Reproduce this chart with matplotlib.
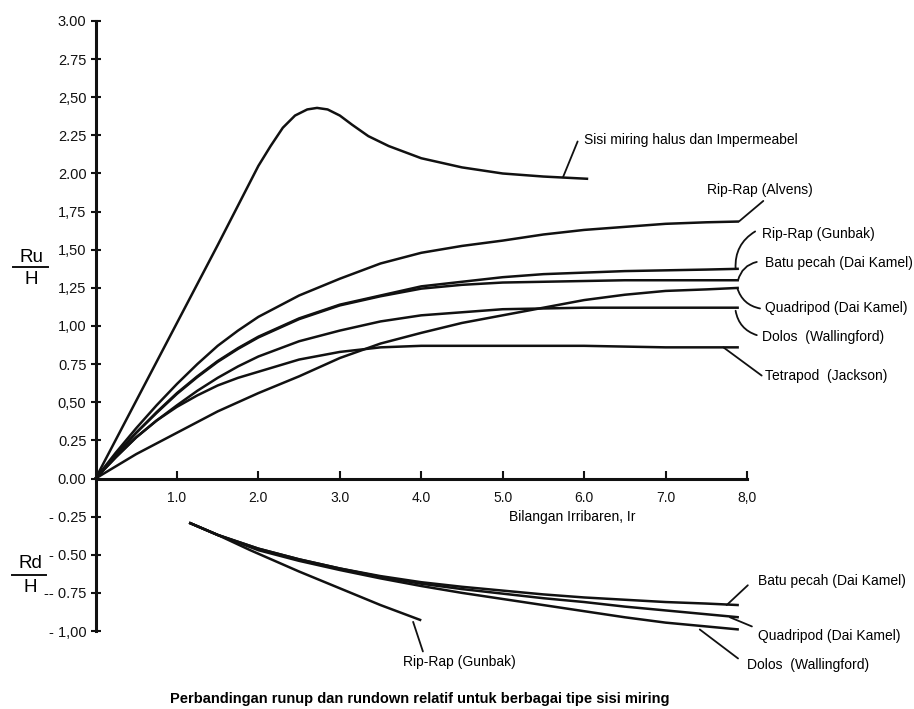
import matplotlib.pyplot as plt

plt.rcParams['font.family'] = ['Liberation Sans', 'DejaVu Sans']

# Ru/H curves (run-up)
x_sisi = [0, 0.5, 1.0, 1.5, 1.75, 2.0, 2.15, 2.3, 2.45, 2.6, 2.72, 2.85, 3.0, 3.15, 3.35, 3.6, 4.0, 4.5, 5.0, 5.5, 6.05]
y_sisi = [0, 0.51, 1.02, 1.53, 1.79, 2.05, 2.18, 2.30, 2.38, 2.42, 2.43, 2.42, 2.38, 2.32, 2.245, 2.18, 2.10, 2.04, 2.0, 1.98, 1.965]

x_up = [0, 0.25, 0.5, 0.75, 1.0, 1.25, 1.5, 1.75, 2.0, 2.5, 3.0, 3.5, 4.0, 4.5, 5.0, 5.5, 6.0, 6.5, 7.0, 7.5, 7.9]
y_alvens = [0, 0.17, 0.33, 0.48, 0.62, 0.75, 0.87, 0.97, 1.06, 1.20, 1.31, 1.41, 1.48, 1.525, 1.56, 1.60, 1.63, 1.65, 1.67, 1.68, 1.685]
y_gunbak = [0, 0.155, 0.30, 0.435, 0.56, 0.67, 0.77, 0.855, 0.93, 1.05, 1.14, 1.20, 1.26, 1.29, 1.32, 1.34, 1.35, 1.36, 1.365, 1.37, 1.375]
y_batu = [0, 0.155, 0.30, 0.43, 0.555, 0.665, 0.765, 0.85, 0.925, 1.045, 1.135, 1.195, 1.245, 1.27, 1.285, 1.29, 1.295, 1.30, 1.30, 1.30, 1.30]
y_quad = [0, 0.08, 0.16, 0.23, 0.30, 0.37, 0.44, 0.50, 0.56, 0.67, 0.79, 0.885, 0.955, 1.02, 1.07, 1.12, 1.17, 1.205, 1.23, 1.24, 1.25]
y_dolos = [0, 0.14, 0.27, 0.38, 0.48, 0.575, 0.66, 0.735, 0.80, 0.90, 0.97, 1.03, 1.07, 1.09, 1.11, 1.115, 1.12, 1.12, 1.12, 1.12, 1.12]
y_tetra = [0, 0.14, 0.27, 0.38, 0.47, 0.545, 0.61, 0.66, 0.70, 0.78, 0.83, 0.86, 0.87, 0.87, 0.87, 0.87, 0.87, 0.865, 0.86, 0.86, 0.86]

# Rd/H curves (run-down)
x_dn = [1.15, 1.5, 2.0, 2.5, 3.0, 3.5, 4.0, 4.5, 5.0, 5.5, 6.0, 6.5, 7.0, 7.5, 7.9]
yd_batu = [-0.29, -0.37, -0.46, -0.53, -0.59, -0.64, -0.68, -0.71, -0.735, -0.76, -0.78, -0.795, -0.81, -0.82, -0.83]
yd_quad = [-0.29, -0.37, -0.46, -0.53, -0.59, -0.645, -0.69, -0.725, -0.755, -0.785, -0.81, -0.84, -0.865, -0.89, -0.91]
yd_dolos = [-0.29, -0.37, -0.47, -0.54, -0.60, -0.655, -0.705, -0.75, -0.79, -0.83, -0.87, -0.91, -0.945, -0.97, -0.99]
x_dn_gunbak = [1.15, 1.5, 1.9, 2.5, 3.0, 3.5, 4.0]
yd_gunbak = [-0.29, -0.37, -0.47, -0.61, -0.72, -0.83, -0.93]

y_ticks = [3.0, 2.75, 2.5, 2.25, 2.0, 1.75, 1.5, 1.25, 1.0, 0.75, 0.5, 0.25, 0.0, -0.25, -0.5, -0.75, -1.0]
y_ticklabels = ["3.00", "2.75", "2,50", "2.25", "2.00", "1,75", "1,50", "1,25", "1,00", "0.75",
                "0,50", "0.25", "0.00", "- 0.25", "- 0.50", "-- 0.75", "- 1,00"]
x_ticks = [1, 2, 3, 4, 5, 6, 7, 8]
x_ticklabels = ["1.0", "2.0", "3.0", "4.0", "5.0", "6.0", "7.0", "8,0"]

fig = plt.figure(figsize=(9.14, 7.09), dpi=100)
ax = fig.add_axes([0.1045, 0.110, 0.7128, 0.8604])
ax.set_xlim(0, 8.0)
ax.set_ylim(-1.0, 3.0)

lw = 1.8
col = '#111111'
kw = dict(color=col, lw=lw, solid_capstyle='butt', solid_joinstyle='round', clip_on=False)
ax.plot(x_sisi, y_sisi, **kw)
for yy in [y_alvens, y_gunbak, y_batu, y_quad, y_dolos, y_tetra]:
    ax.plot(x_up, yy, **kw)
for yy in [yd_batu, yd_quad, yd_dolos]:
    ax.plot(x_dn, yy, **kw)
ax.plot(x_dn_gunbak, yd_gunbak, **kw)

# axes styling
for s in ['top', 'right']:
    ax.spines[s].set_visible(False)
ax.spines['bottom'].set_position(('data', 0))
ax.spines['left'].set_linewidth(2.2)
ax.spines['bottom'].set_linewidth(2.2)
ax.spines['left'].set_color(col)
ax.spines['bottom'].set_color(col)

ax.set_yticks(y_ticks)
ax.set_yticklabels(y_ticklabels)
ax.set_xticks(x_ticks)
ax.set_xticklabels(x_ticklabels)
ax.tick_params(axis='y', direction='inout', length=7, width=1.5, labelsize=10.5, pad=3, colors=col)
ax.tick_params(axis='x', direction='in', length=6, width=1.5, labelsize=10, pad=9, colors=col)

# labels with pointer lines
fs = 10
ann = dict(arrowprops=dict(arrowstyle='-', color=col, lw=1.3, shrinkA=0, shrinkB=0),
           annotation_clip=False)
ax.annotate("", xy=(5.74, 1.975), xytext=(5.92, 2.21), **ann)
ax.text(6.0, 2.22, "Sisi miring halus dan Impermeabel", fontsize=fs, va='center')

ax.annotate("", xy=(7.90, 1.685), xytext=(8.20, 1.82), **ann)
ax.text(7.51, 1.89, "Rip-Rap (Alvens)", fontsize=fs, va='center')

ann_c = dict(arrowprops=dict(arrowstyle='-', color=col, lw=1.3, shrinkA=0, shrinkB=0,
                             connectionstyle='arc3,rad=0.3'),
             annotation_clip=False)
ax.annotate("", xy=(7.86, 1.375), xytext=(8.10, 1.62), **ann_c)
ax.text(8.18, 1.60, "Rip-Rap (Gunbak)", fontsize=fs, va='center')

ax.annotate("", xy=(7.89, 1.30), xytext=(8.12, 1.42), **ann_c)
ax.text(8.22, 1.41, "Batu pecah (Dai Kamel)", fontsize=fs, va='center')

ann_c2 = dict(arrowprops=dict(arrowstyle='-', color=col, lw=1.3, shrinkA=0, shrinkB=0,
                              connectionstyle='arc3,rad=-0.3'),
              annotation_clip=False)
ax.annotate("", xy=(7.88, 1.25), xytext=(8.16, 1.115), **ann_c2)
ax.text(8.22, 1.12, "Quadripod (Dai Kamel)", fontsize=fs, va='center')

ax.annotate("", xy=(7.86, 1.10), xytext=(8.12, 0.94), **ann_c2)
ax.text(8.18, 0.93, "Dolos  (Wallingford)", fontsize=fs, va='center')

ax.annotate("", xy=(7.71, 0.86), xytext=(8.18, 0.675), **ann)
ax.text(8.22, 0.67, "Tetrapod  (Jackson)", fontsize=fs, va='center')

ax.annotate("", xy=(7.75, -0.83), xytext=(8.01, -0.70), **ann)
ax.text(8.14, -0.675, "Batu pecah (Dai Kamel)", fontsize=fs, va='center')

ax.annotate("", xy=(7.79, -0.91), xytext=(8.06, -0.97), **ann)
ax.text(8.14, -1.03, "Quadripod (Dai Kamel)", fontsize=fs, va='center')

ax.annotate("", xy=(7.42, -0.99), xytext=(7.89, -1.18), **ann)
ax.text(8.0, -1.226, "Dolos  (Wallingford)", fontsize=fs, va='center')

ax.annotate("", xy=(3.90, -0.94), xytext=(4.02, -1.134), **ann)
ax.text(3.78, -1.20, "Rip-Rap (Gunbak)", fontsize=fs, va='center')

ax.text(5.86, -0.25, "Bilangan Irribaren, Ir", fontsize=10, ha='center', va='center')

# y axis fraction labels
fig.text(31 / 914, 1 - 257 / 709, "Ru", fontsize=13.5, ha='center', va='center')
fig.add_artist(plt.Line2D([13 / 914, 48 / 914], [1 - 267 / 709] * 2, color=col, lw=1.4))
fig.text(31 / 914, 1 - 279 / 709, "H", fontsize=13.5, ha='center', va='center')
fig.text(30 / 914, 1 - 564 / 709, "Rd", fontsize=13.5, ha='center', va='center')
fig.add_artist(plt.Line2D([12 / 914, 46 / 914], [1 - 575 / 709] * 2, color=col, lw=1.4))
fig.text(30 / 914, 1 - 587 / 709, "H", fontsize=13.5, ha='center', va='center')

fig.text(420 / 914, 1 - 699 / 709, "Perbandingan runup dan rundown relatif untuk berbagai tipe sisi miring",
         fontsize=10.5, fontweight='bold', ha='center', va='center')

fig.savefig("out.png", dpi=100)
